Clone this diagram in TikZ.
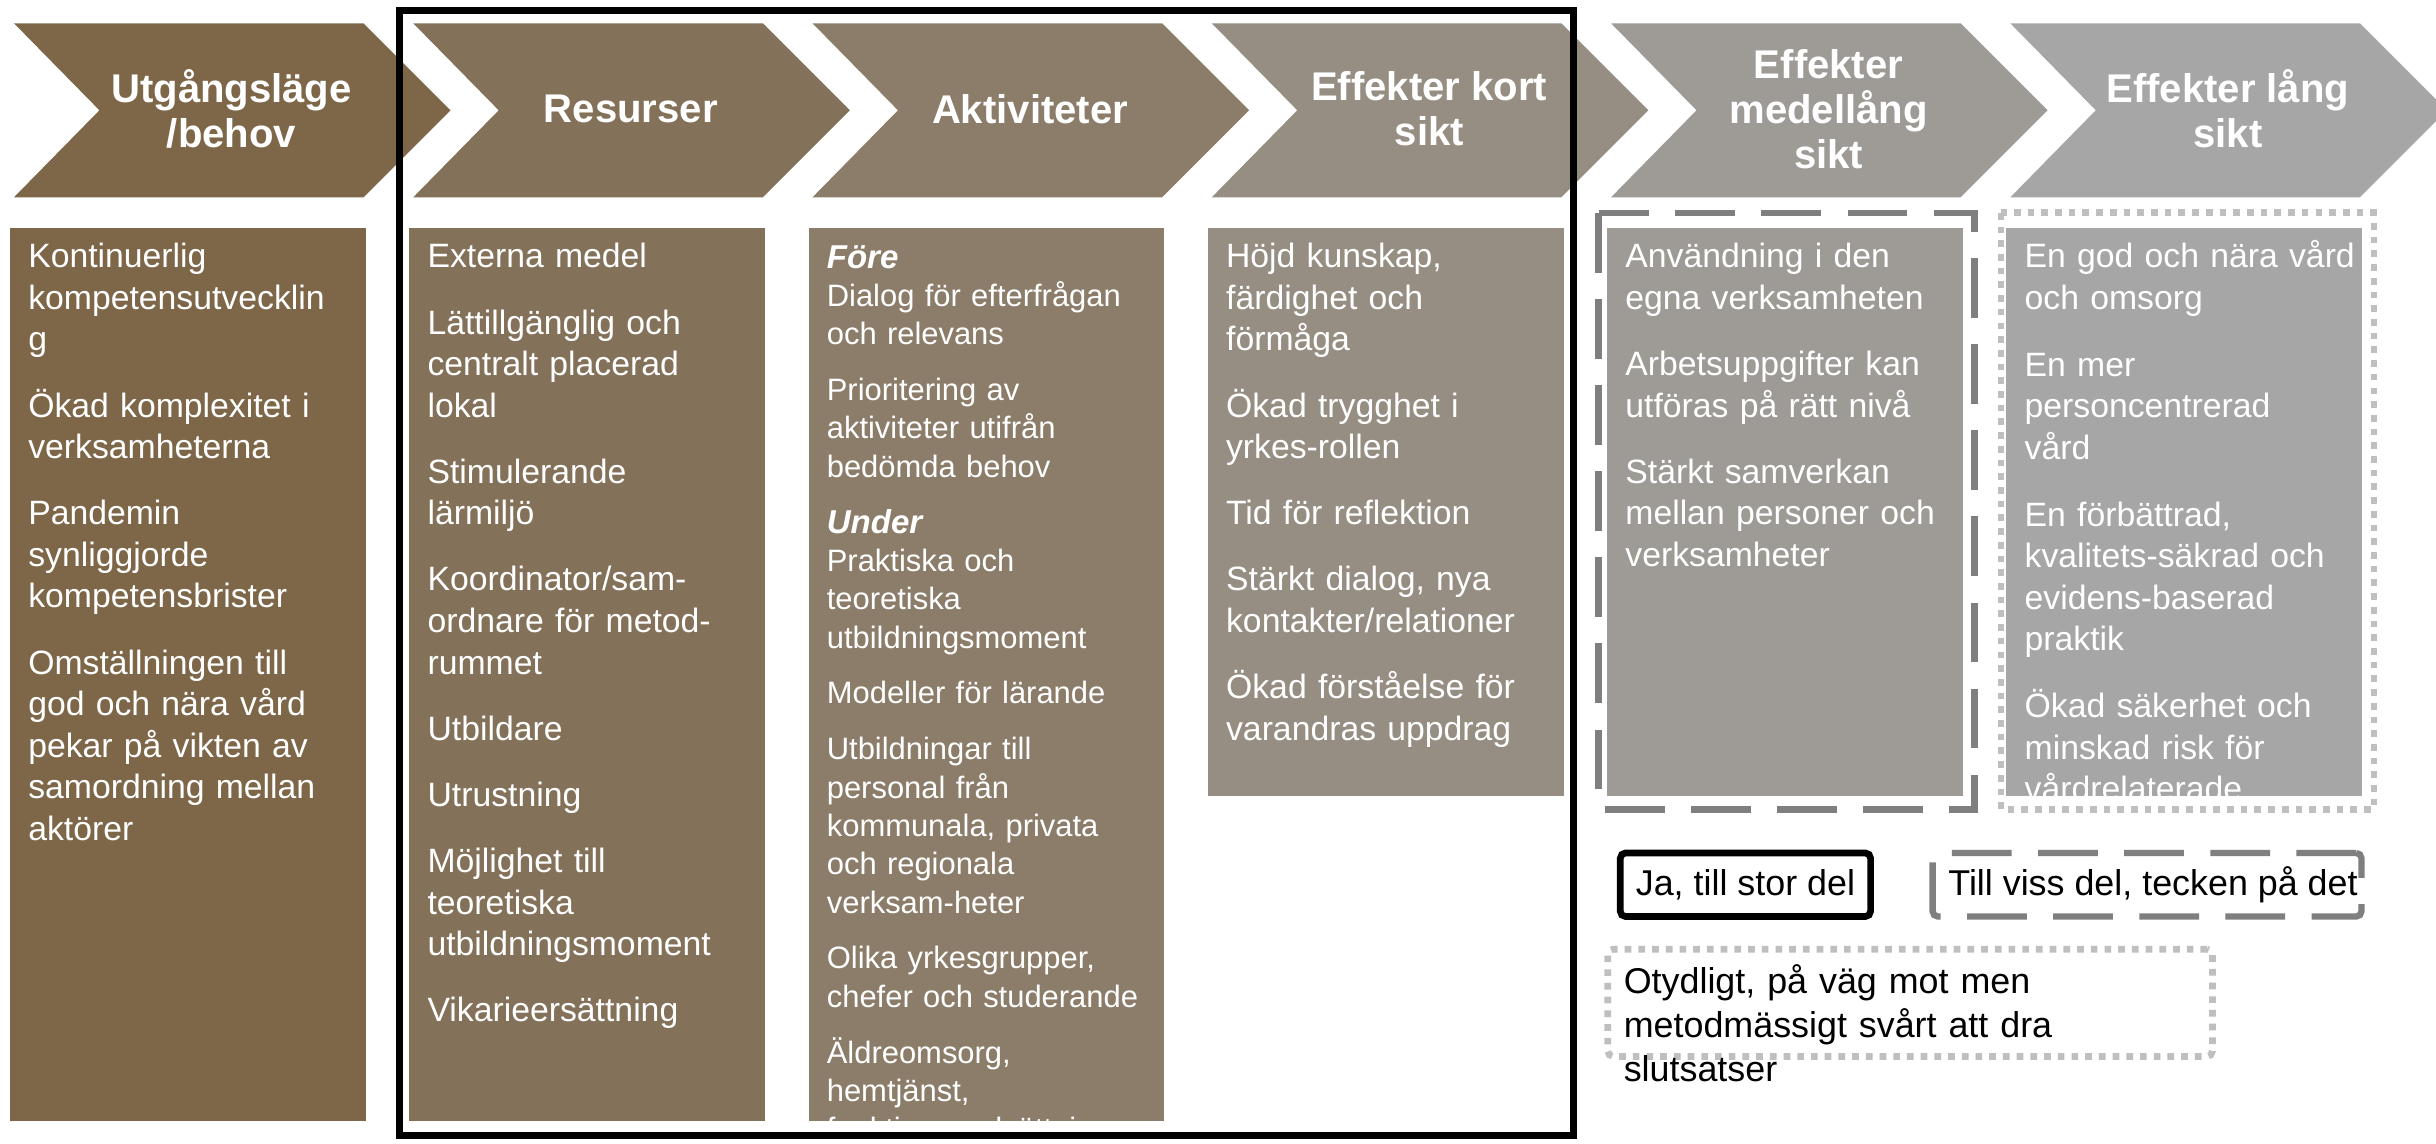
\documentclass[tikz,border=0pt]{standalone}
\usepackage{fontspec}
\setmainfont{Liberation Sans}
\usepackage{xcolor}
\usepackage{tikz}
\usetikzlibrary{positioning}

\definecolor{utgcol}{HTML}{7D6748}
\definecolor{rescol}{HTML}{847159}
\definecolor{aktcol}{HTML}{8C7D6A}
\definecolor{kortcol}{HTML}{968E82}
\definecolor{medelcol}{HTML}{9E9B96}
\definecolor{langcol}{HTML}{A6A6A6}
\definecolor{dashgray}{HTML}{7F7F7F}
\definecolor{dotgray}{HTML}{BFBFBF}

\newcommand{\subhd}[1]{{\fontsize{9.4}{10.9}\selectfont\bfseries\itshape #1}}

\begin{document}
\begin{tikzpicture}[
  x=0.015536cm, y=-0.015536cm,
  heading/.style={text=white, align=center, inner sep=0pt, font=\fontsize{11.4}{12.8}\selectfont\bfseries},
  colbox/.style={anchor=north west, inner sep=0pt, minimum width=101.2pt},
  tallbox/.style={colbox, minimum height=254.2pt},
  shortbox/.style={colbox, minimum height=161.8pt},
  coltext/.style={anchor=north west, inner sep=0pt, text=white, align=left, text width=108pt, font=\fontsize{9.6}{11.82}\selectfont},
  akttext/.style={coltext, font=\fontsize{8.8}{10.9}\selectfont},
  dashframe/.style={draw=dashgray, line width=1.8pt, dash pattern=on 17pt off 7.5pt},
  dotframe/.style={draw=dotgray, line width=1.9pt, dash pattern=on 1.9pt off 2pt},
  legtext/.style={text=black, font=\fontsize{10.2}{12.6}\selectfont}
]
\useasboundingbox (0,0) rectangle (1568,736);
\fill[white] (0,0) rectangle (1568,736);

% Chevrons
\fill[utgcol] (9,15) -- (234,15) -- (290,71) -- (234,127) -- (9,127) -- (64,71) -- cycle;
\fill[rescol] (266,15) -- (491,15) -- (547,71) -- (491,127) -- (266,127) -- (321,71) -- cycle;
\fill[aktcol] (523,15) -- (748,15) -- (804,71) -- (748,127) -- (523,127) -- (578,71) -- cycle;
\fill[kortcol] (780,15) -- (1005,15) -- (1061,71) -- (1005,127) -- (780,127) -- (835,71) -- cycle;
\fill[medelcol] (1037,15) -- (1262,15) -- (1318,71) -- (1262,127) -- (1037,127) -- (1092,71) -- cycle;
\fill[langcol] (1294,15) -- (1519,15) -- (1575,71) -- (1519,127) -- (1294,127) -- (1349,71) -- cycle;

% Headings
\node[heading] (hutg) at (149,70) {Utgångsläge\\/behov};
\node[heading] (hres) at (406,70) {Resurser};
\node[heading] (hakt) at (663,70) {Aktiviteter};
\node[heading] (hkort) at (920,70) {Effekter kort\\sikt};
\node[heading] (hmedel) at (1177,70) {Effekter\\medellång\\sikt};
\node[heading] (hlang) at (1434,70) {Effekter lång\\sikt};

% Column boxes
\node[tallbox, fill=utgcol] (utgbox) at (6,146) {};
\node[tallbox, fill=rescol] (resbox) at (263,146) {};
\node[tallbox, fill=aktcol] (aktbox) at (520,146) {};
\node[shortbox, fill=kortcol] (kortbox) at (777,146) {};
\node[shortbox, fill=medelcol] (medelbox) at (1034,146) {};
\node[shortbox, fill=langcol] (langbox) at (1291,146) {};

% Column texts
\node[coltext] (utgtext) at ([xshift=5.2pt,yshift=-3.2pt]utgbox.north west) {\noindent\strut
  Kontinuerlig\\kompetensutvecklin\\g\\[7pt]
  Ökad komplexitet i\\verksamheterna\\[7pt]
  Pandemin\\synliggjorde\\kompetensbrister\\[7pt]
  Omställningen till\\god och nära vård\\pekar på vikten av\\samordning mellan\\aktörer};

\node[coltext] (restext) at ([xshift=5.2pt,yshift=-3.2pt]resbox.north west) {\noindent\strut
  Externa medel\\[7pt]
  Lättillgänglig och\\centralt placerad\\lokal\\[7pt]
  Stimulerande\\lärmiljö\\[7pt]
  Koordinator/sam-\\ordnare för metod-\\rummet\\[7pt]
  Utbildare\\[7pt]
  Utrustning\\[7pt]
  Möjlighet till\\teoretiska\\utbildningsmoment\\[7pt]
  Vikarieersättning};

\begin{scope}
  \clip (aktbox.north west) rectangle (aktbox.south east);
  \node[akttext] (akttxt) at ([xshift=5.2pt,yshift=-3.9pt]aktbox.north west) {\noindent\strut
    \subhd{Före}\\
    Dialog för efterfrågan\\och relevans\\[5pt]
    Prioritering av\\aktiviteter utifrån\\bedömda behov\\[5pt]
    \subhd{Under}\\
    Praktiska och\\teoretiska\\utbildningsmoment\\[5pt]
    Modeller för lärande\\[5pt]
    Utbildningar till\\personal från\\kommunala, privata\\och regionala\\verksam-heter\\[5pt]
    Olika yrkesgrupper,\\chefer och studerande\\[5pt]
    Äldreomsorg,\\hemtjänst,\\funktionsnedsättning,};
\end{scope}

\node[coltext] (korttext) at ([xshift=5.2pt,yshift=-3.2pt]kortbox.north west) {\noindent\strut
  Höjd kunskap,\\färdighet och\\förmåga\\[7pt]
  Ökad trygghet i\\yrkes-rollen\\[7pt]
  Tid för reflektion\\[7pt]
  Stärkt dialog, nya\\kontakter/relationer\\[7pt]
  Ökad förståelse för\\varandras uppdrag};

\node[coltext] (medeltext) at ([xshift=5.2pt,yshift=-3.2pt]medelbox.north west) {\noindent\strut
  Användning i den\\egna verksamheten\\[7pt]
  Arbetsuppgifter kan\\utföras på rätt nivå\\[7pt]
  Stärkt samverkan\\mellan personer och\\verksamheter};

\begin{scope}
  \clip (langbox.north west) rectangle (langbox.south east);
  \node[coltext] (langtext) at ([xshift=5.2pt,yshift=-3.2pt]langbox.north west) {\noindent\strut
    En god och nära vård\\och omsorg\\[7.2pt]
    En mer\\personcentrerad\\vård\\[7.2pt]
    En förbättrad,\\kvalitets-säkrad och\\evidens-baserad\\praktik\\[7.2pt]
    Ökad säkerhet och\\minskad risk för\\vårdrelaterade};
\end{scope}

% Frames
\draw[dashframe] (1029,137) rectangle (1271,521);
\draw[dotframe] (1288,137) rectangle (1528,521);
\draw[line width=2pt] (257,7) rectangle (1013,731);

% Legend
\node[legtext, draw=black, line width=1.9pt, rounded corners=1.5pt, minimum width=71.2pt, minimum height=18.1pt] (ja) at (1123.5,569.5) {Ja, till stor del};
\node[dashframe, rounded corners=1.5pt, minimum width=122pt, minimum height=18.1pt] (viss) at (1382,569.5) {};
\node[legtext, anchor=west, inner sep=0pt] (visstxt) at ([xshift=5.2pt]viss.west) {Till viss del, tecken på det};
\node[dotframe, rounded corners=1.5pt, minimum width=172pt, minimum height=30.5pt] (otyd) at (1229.5,645.5) {};
\node[legtext, anchor=north west, inner sep=0pt, align=left, text width=160pt] (otydtxt) at ([xshift=5.3pt,yshift=-4.4pt]otyd.north west) {\noindent\strut
  Otydligt, på väg mot men\\metodmässigt svårt att dra\\slutsatser};

\end{tikzpicture}
\end{document}
